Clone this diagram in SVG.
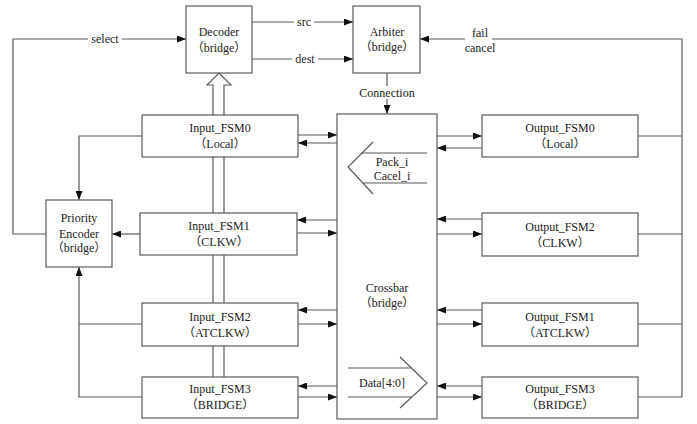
<svg xmlns="http://www.w3.org/2000/svg" width="697" height="424" viewBox="0 0 697 424">
<style>
.box{fill:#fff;stroke:#5a5a5a;stroke-width:1.2}
.ln{fill:none;stroke:#5a5a5a;stroke-width:1.2}
.t{font-family:"Liberation Serif","Noto Sans CJK SC",serif;font-size:12px;fill:#222;text-anchor:middle}
</style>
<defs>
<marker id="ar" markerUnits="userSpaceOnUse" markerWidth="9" markerHeight="7" refX="9" refY="3.5" orient="auto">
<path d="M0,0 L9,3.5 L0,7 z" fill="#111"/>
</marker>
</defs>
<rect width="697" height="424" fill="#fff"/>
<g id="connectors">
<!-- select -->
<polyline class="ln" points="46,234 13,234 13,39 186,39" marker-end="url(#ar)"/>
<!-- src / dest -->
<line class="ln" x1="252" y1="22" x2="353" y2="22" marker-end="url(#ar)"/>
<line class="ln" x1="252" y1="59" x2="353" y2="59" marker-end="url(#ar)"/>
<!-- fail cancel -->
<polyline class="ln" points="638,136 682,136"/>
<polyline class="ln" points="638,234 682,234"/>
<polyline class="ln" points="638,324 682,324"/>
<polyline class="ln" points="638,397 682,397 682,39 492,39"/>
<line class="ln" x1="465" y1="39" x2="420" y2="39" marker-end="url(#ar)"/>
<!-- Connection -->
<line class="ln" x1="387" y1="73" x2="387" y2="114" marker-end="url(#ar)"/>
<!-- hollow arrow to decoder -->
<polyline class="ln" points="213,115 213,85 207,85 219,73 231,85 224,85 224,115"/>
<line class="ln" x1="213" y1="157" x2="213" y2="213"/>
<line class="ln" x1="224" y1="157" x2="224" y2="213"/>
<line class="ln" x1="213" y1="255" x2="213" y2="303"/>
<line class="ln" x1="224" y1="255" x2="224" y2="303"/>
<line class="ln" x1="213" y1="346" x2="213" y2="377"/>
<line class="ln" x1="224" y1="346" x2="224" y2="377"/>
<!-- to priority encoder -->
<polyline class="ln" points="142,136 79,136 79,200" marker-end="url(#ar)"/>
<line class="ln" x1="140" y1="234" x2="112" y2="234" marker-end="url(#ar)"/>
<polyline class="ln" points="142,397 79,397 79,267" marker-end="url(#ar)"/>
<line class="ln" x1="142" y1="324" x2="79" y2="324"/>
<!-- input <-> crossbar -->
<line class="ln" x1="298" y1="135" x2="337" y2="135" marker-end="url(#ar)"/>
<line class="ln" x1="337" y1="143" x2="298" y2="143" marker-end="url(#ar)"/>
<line class="ln" x1="337" y1="220" x2="297" y2="220" marker-end="url(#ar)"/>
<line class="ln" x1="297" y1="233" x2="337" y2="233" marker-end="url(#ar)"/>
<line class="ln" x1="337" y1="310" x2="298" y2="310" marker-end="url(#ar)"/>
<line class="ln" x1="298" y1="324" x2="337" y2="324" marker-end="url(#ar)"/>
<line class="ln" x1="337" y1="386" x2="298" y2="386" marker-end="url(#ar)"/>
<line class="ln" x1="298" y1="397" x2="337" y2="397" marker-end="url(#ar)"/>
<!-- crossbar <-> output -->
<line class="ln" x1="437" y1="136" x2="482" y2="136" marker-end="url(#ar)"/>
<line class="ln" x1="482" y1="148" x2="437" y2="148" marker-end="url(#ar)"/>
<line class="ln" x1="482" y1="219" x2="437" y2="219" marker-end="url(#ar)"/>
<line class="ln" x1="437" y1="234" x2="482" y2="234" marker-end="url(#ar)"/>
<line class="ln" x1="482" y1="310" x2="437" y2="310" marker-end="url(#ar)"/>
<line class="ln" x1="437" y1="324" x2="482" y2="324" marker-end="url(#ar)"/>
<line class="ln" x1="482" y1="386" x2="437" y2="386" marker-end="url(#ar)"/>
<line class="ln" x1="437" y1="397" x2="482" y2="397" marker-end="url(#ar)"/>
</g>
<g id="decoder"><rect class="box" x="186" y="6" width="66" height="67"/>
<text class="t" x="219" y="36">Decoder</text><text class="t" x="219" y="52">（bridge）</text></g>
<g id="arbiter"><rect class="box" x="353" y="6" width="67" height="67"/>
<text class="t" x="387" y="36">Arbiter</text><text class="t" x="387" y="51">（bridge）</text></g>
<g id="priority"><rect class="box" x="46" y="200" width="66" height="67"/>
<text class="t" x="79" y="222">Priority</text><text class="t" x="79" y="238">Encoder</text><text class="t" x="79" y="252">（bridge）</text></g>
<g id="in0"><rect class="box" x="142" y="115" width="156" height="42"/>
<text class="t" x="220" y="132">Input_FSM0</text><text class="t" x="220" y="148">（Local）</text></g>
<g id="in1"><rect class="box" x="140" y="213" width="157" height="42"/>
<text class="t" x="219" y="230">Input_FSM1</text><text class="t" x="219" y="246">（CLKW）</text></g>
<g id="in2"><rect class="box" x="142" y="303" width="156" height="43"/>
<text class="t" x="220" y="321">Input_FSM2</text><text class="t" x="220" y="337">（ATCLKW）</text></g>
<g id="in3"><rect class="box" x="142" y="377" width="156" height="41"/>
<text class="t" x="220" y="393">Input_FSM3</text><text class="t" x="220" y="409">（BRIDGE）</text></g>
<g id="crossbar"><rect class="box" x="337" y="114" width="100" height="305"/>
<text class="t" x="387" y="292">Crossbar</text><text class="t" x="387" y="307">（bridge）</text>
<polyline class="ln" points="373,142 348,167 373,194"/>
<line class="ln" x1="361" y1="153" x2="427" y2="153"/>
<line class="ln" x1="363" y1="183" x2="427" y2="183"/>
<text class="t" x="392" y="166">Pack_i</text><text class="t" x="392" y="180">Cacel_i</text>
<polyline class="ln" points="400,357 427,383 400,408"/>
<line class="ln" x1="348" y1="368" x2="411" y2="368"/>
<line class="ln" x1="348" y1="397" x2="412" y2="397"/>
<text class="t" x="382" y="387">Data[4:0]</text></g>
<g id="out0"><rect class="box" x="482" y="115" width="156" height="42"/>
<text class="t" x="560" y="132">Output_FSM0</text><text class="t" x="560" y="148">（Local）</text></g>
<g id="out2"><rect class="box" x="482" y="213" width="156" height="43"/>
<text class="t" x="560" y="231">Output_FSM2</text><text class="t" x="560" y="247">（CLKW）</text></g>
<g id="out1"><rect class="box" x="482" y="303" width="156" height="43"/>
<text class="t" x="560" y="321">Output_FSM1</text><text class="t" x="560" y="337">（ATCLKW）</text></g>
<g id="out3"><rect class="box" x="482" y="377" width="156" height="41"/>
<text class="t" x="560" y="393">Output_FSM3</text><text class="t" x="560" y="409">（BRIDGE）</text></g>
<g id="labels">
<rect x="88" y="32" width="34" height="12" fill="#fff"/>
<text class="t" x="105" y="43">select</text>
<rect x="294" y="15" width="20" height="12" fill="#fff"/>
<text class="t" x="304" y="26">src</text>
<rect x="292" y="52" width="26" height="12" fill="#fff"/>
<text class="t" x="305" y="63">dest</text>
<text class="t" x="480" y="37">fail</text>
<text class="t" x="480" y="52">cancel</text>
<rect x="357" y="86" width="60" height="13" fill="#fff"/>
<text class="t" x="387" y="97">Connection</text>
</g>
</svg>
